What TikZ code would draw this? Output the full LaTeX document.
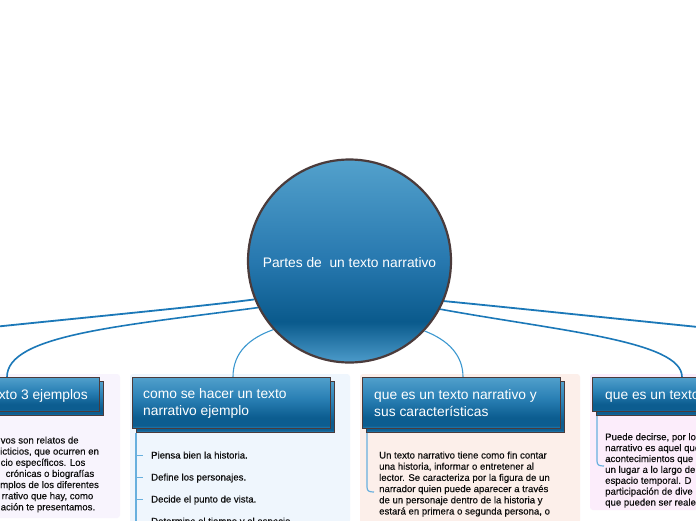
\documentclass[tikz,border=0pt]{standalone}
\usepackage{fontspec}
\setmainfont{Liberation Sans}
\newfontfamily\bodyfont{Liberation Sans}[FakeBold=0.35]
\pgfdeclarelayer{panels}
\pgfdeclarelayer{links}
\pgfsetlayers{panels,links,main}
\definecolor{bord}{HTML}{4B3B3B}
\definecolor{hTop}{HTML}{509FCB}
\definecolor{hMid}{HTML}{2A80B5}
\definecolor{hDark}{HTML}{0C5D90}
\definecolor{hBot}{HTML}{3088BC}
\definecolor{cTop}{HTML}{53A1CC}
\definecolor{cMid}{HTML}{2778AF}
\definecolor{cDark}{HTML}{0A5A8C}
\definecolor{cBot}{HTML}{4C9BCA}
\definecolor{linkA}{HTML}{1B78B8}
\definecolor{linkB}{HTML}{3C98D0}
\definecolor{listc}{HTML}{68B0DE}
\definecolor{pA}{HTML}{F8F4FD}
\definecolor{pB}{HTML}{EFF6FD}
\definecolor{pC}{HTML}{FCEFEA}
\definecolor{pD}{HTML}{FCEDFB}
\definecolor{txt}{HTML}{0E0E0E}
\pgfdeclareverticalshading{hdrshade}{100bp}{color(0bp)=(hBot); color(25bp)=(hBot); color(28bp)=(hDark); color(36bp)=(hDark); color(55bp)=(hMid); color(75bp)=(hTop); color(100bp)=(hTop)}
\pgfdeclareverticalshading{rootshade}{100bp}{color(0bp)=(cBot); color(25bp)=(cBot); color(35bp)=(cDark); color(50bp)=(cMid); color(75bp)=(cTop); color(100bp)=(cTop)}
\begin{document}
\begin{tikzpicture}[x=1pt,y=-1pt,
  hdrbox/.style={rectangle, draw=bord, line width=1.4pt, shading=hdrshade, inner sep=0pt, anchor=north west},
  hdrtext/.style={text=white, font=\fontsize{13.8}{17}\selectfont, inner sep=0pt, anchor=base west},
  body/.style={text=txt, font=\bodyfont\fontsize{9.6}{11.2}\selectfont, inner sep=0pt, anchor=base west},
  biglink/.style={draw=linkA, line width=1.8pt},
  midlink/.style={draw=linkA, line width=1.6pt},
  smalllink/.style={draw=linkB, line width=1.1pt},
  listline/.style={draw=listc, line width=1.2pt},
  tickline/.style={draw=listc, line width=0.9pt}
]
\useasboundingbox (0,0) rectangle (696,520);

% panels
\begin{pgfonlayer}{panels}
\fill[white] (0,0) rectangle (696,520);
\fill[pA, rounded corners=3pt] (-20,374) rectangle (120,518);
\fill[pB, rounded corners=3pt] (130,374) rectangle (350,530);
\fill[pC, rounded corners=3pt] (360,374) rectangle (580,530);
\fill[pD, rounded corners=3pt] (590,374) rectangle (720,510);
\end{pgfonlayer}

% root
\node[circle, draw=bord, line width=2.2pt, shading=rootshade, minimum size=203pt, inner sep=0pt,
      text=white, font=\fontsize{13.8}{17}\selectfont] (root) at (349.5,261) {};
\node[text=white, font=\fontsize{13.8}{17}\selectfont, inner sep=0pt, anchor=base] (rootlabel) at (349.5,267) {Partes de\ \ un texto narrativo};

% header shadows and headers
\node[hdrbox, minimum width=109pt, minimum height=34pt] (h1s) at (-6,381) {};
\node[hdrbox, minimum width=109pt, minimum height=34pt] (h1) at (-10,377) {};
\node[hdrbox, minimum width=198pt, minimum height=51pt] (h2s) at (136,381) {};
\node[hdrbox, minimum width=198pt, minimum height=51pt] (h2) at (132,377) {};
\node[hdrbox, minimum width=198pt, minimum height=51pt] (h3s) at (366,381) {};
\node[hdrbox, minimum width=198pt, minimum height=51pt] (h3) at (362,377) {};
\node[hdrbox, minimum width=130pt, minimum height=34pt] (h4s) at (596,381) {};
\node[hdrbox, minimum width=130pt, minimum height=34pt] (h4) at (592,377) {};

\node[hdrtext, anchor=base east] (t1) at (88,399.5) {xto 3 ejemplos};
\node[hdrtext] (t2a) at (143,398.5) {como se hacer un texto};
\node[hdrtext] (t2b) at (143,415.5) {narrativo ejemplo};
\node[hdrtext] (t3a) at (374,399.5) {que es un texto narrativo y};
\node[hdrtext] (t3b) at (374,416) {sus características};
\node[hdrtext] (t4) at (605,399.5) {que es un texto};

% links from the root
\coordinate (offL) at (-2,326.5);
\coordinate (offR) at (698,327);
\coordinate (in1) at (7,377);
\coordinate (in2) at (233,377);
\coordinate (in3) at (463,377);
\coordinate (in4) at (682,377);
\begin{pgfonlayer}{links}
\draw[biglink] (root.202.7) .. controls (200,306.5) and (100,316) .. (offL);
\draw[midlink] (root.207.7) .. controls (120,326) and (7,335) .. (in1);
\draw[smalllink] (root.222.4) .. controls (250,338) and (233,352) .. (in2);
\draw[biglink] (root.337.3) .. controls (500,306.5) and (600,317) .. (offR);
\draw[midlink] (root.332.3) .. controls (560,331) and (682,341) .. (in4);
\draw[smalllink] (root.317.6) .. controls (448,340) and (463,355) .. (in3);
% panel connectors
\draw[listline] (h2s.south west -| 136,0) -- (136,522);
\draw[listline] (367,430) -- (367,487) .. controls (367,491) and (369,492) .. (374,492);
\draw[listline] (597,412) -- (597,461) .. controls (597,465) and (599,466) .. (604,466);
\end{pgfonlayer}

% panel 1 text
\node[body] (p1a) at (0.5,443.5) {vos son relatos de};
\node[body] (p1b) at (0,454.6) {icticios, que ocurren en};
\node[body] (p1c) at (0.5,465.8) {cio específicos. Los};
\node[body] (p1d) at (5.5,476.9) {crónicas o biografías};
\node[body] (p1e) at (0,488) {mplos de los diferentes};
\node[body] (p1f) at (1.5,499.2) {rrativo que hay, como};
\node[body] (p1g) at (0.5,510.3) {ación te presentamos.};

% panel 2 list
\foreach \t/\yy [count=\i] in {Piensa bien la historia./458.5, Define los personajes./480.5, Decide el punto de vista./502.5, Determina el tiempo y el espacio./524.5}{
  \node[body] (p2i\i) at (151,\yy) {\t};
  \draw[tickline] (136,\yy-3.5) -- (143,\yy-3.5);
}

% panel 3 text
\foreach \t [count=\i from 0] in {{Un texto narrativo tiene como fin contar},{una historia, informar o entretener al},{lector. Se caracteriza por la figura de un},{narrador quien puede aparecer a través},{de un personaje dentro de la historia y},{estará en primera o segunda persona, o}}{
  \node[body] (p3l\i) at (379,458.5+11.2*\i) {\t};
}

% panel 4 text
\foreach \t [count=\i from 0] in {{Puede decirse, por lo},{narrativo es aquel que},{acontecimientos que},{un lugar a lo largo de},{espacio temporal. D},{participación de dive},{que pueden ser reale}}{
  \node[body] (p4l\i) at (605,440.2+10.9*\i) {\t};
}
\end{tikzpicture}
\end{document}
